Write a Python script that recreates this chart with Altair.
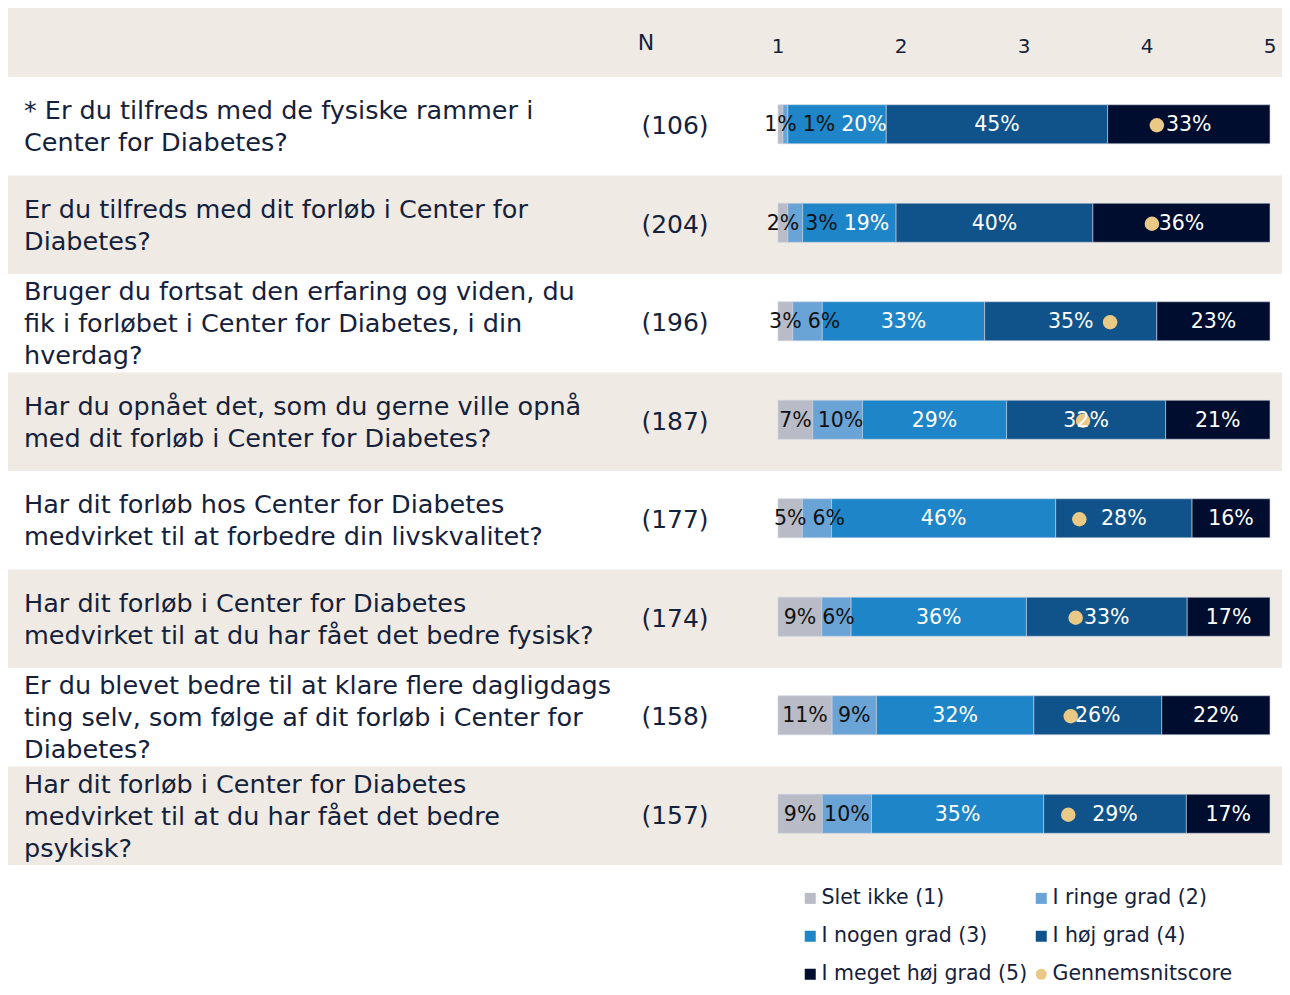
import altair as alt
import pandas as pd

# ---------------- data ----------------
questions = [
    "* Er du tilfreds med de fysiske rammer i\nCenter for Diabetes?",
    "Er du tilfreds med dit forløb i Center for\nDiabetes?",
    "Bruger du fortsat den erfaring og viden, du\nfik i forløbet i Center for Diabetes, i din\nhverdag?",
    "Har du opnået det, som du gerne ville opnå\nmed dit forløb i Center for Diabetes?",
    "Har dit forløb hos Center for Diabetes\nmedvirket til at forbedre din livskvalitet?",
    "Har dit forløb i Center for Diabetes\nmedvirket til at du har fået det bedre fysisk?",
    "Er du blevet bedre til at klare flere dagligdags\nting selv, som følge af dit forløb i Center for\nDiabetes?",
    "Har dit forløb i Center for Diabetes\nmedvirket til at du har fået det bedre\npsykisk?",
]
n_values = [106, 204, 196, 187, 177, 174, 158, 157]
slet_ikke = [1, 2, 3, 7, 5, 9, 11, 9]
ringe_grad = [1, 3, 6, 10, 6, 6, 9, 10]
nogen_grad = [20, 19, 33, 29, 46, 36, 32, 35]
hoej_grad = [45, 40, 35, 32, 28, 33, 26, 29]
meget_hoej_grad = [33, 36, 23, 21, 16, 17, 22, 17]
mean_scores = [4.08, 4.04, 3.70, 3.48, 3.45, 3.42, 3.38, 3.36]
scale_ticks = [1, 2, 3, 4, 5]
categories = ["Slet ikke (1)", "I ringe grad (2)", "I nogen grad (3)",
              "I høj grad (4)", "I meget høj grad (5)"]
mean_label = "Gennemsnitscore"

# ---------------- styling ----------------
FONT = "DejaVu Sans"
TEXT = "#15213b"
BEIGE = "#efebe4"
cat_colors = ["#b9bcc7", "#6aa3d5", "#1e86c8", "#10538a", "#000d2e"]
dot_color = "#e9c985"
W, H = 1274, 978
X_RANGE = [770, 1262]
PX_PER_UNIT = (X_RANGE[1] - X_RANGE[0]) / 4.0
LINE_H = 32
PCT_SIZE = 20.5

# ---------------- tables ----------------
seg_rows = []
for i, q in enumerate(questions):
    vals = [slet_ikke[i], ringe_grad[i], nogen_grad[i], hoej_grad[i], meget_hoej_grad[i]]
    total = float(sum(vals))
    cum = 0
    prev_pos, prev_w = None, None
    for j, (c, v) in enumerate(zip(categories, vals)):
        start = 1 + 4 * cum / total
        cum += v
        end = 1 + 4 * cum / total
        label = f"{v}%"
        w = (0.636 * PCT_SIZE * (len(label) - 1) + 0.95 * PCT_SIZE) / PX_PER_UNIT
        pos = (start + end) / 2
        if prev_pos is not None:
            pos = max(pos, prev_pos + (prev_w + w) / 2 + 6 / PX_PER_UNIT)
        prev_pos, prev_w = pos, w
        seg_rows.append(dict(question=q, cat=c, x0=start, x1=end, lx=pos,
                             label=label,
                             tcolor="#111111" if j < 2 else "#ffffff"))
segs = pd.DataFrame(seg_rows)

qdf = pd.DataFrame({
    "question": questions,
    "nlines": [q.count("\n") + 1 for q in questions],
    "ntext": [f"({n})" for n in n_values],
    "mean": mean_scores,
    "serie": [mean_label] * len(questions),
    "beige": [i % 2 == 1 for i in range(len(questions))],
})
ticks = pd.DataFrame({"tick": scale_ticks, "t": [str(t) for t in scale_ticks]})
header = pd.DataFrame({"h": ["N"]})

xscale = alt.Scale(domain=[1, 5], range=X_RANGE)
yscale = alt.Scale(domain=questions, range=[69, 857], paddingInner=0, paddingOuter=0)
legend_domain = categories + [mean_label]
color_scale = alt.Scale(domain=legend_domain, range=cat_colors + [dot_color])
shape_scale = alt.Scale(domain=legend_domain, range=["square"] * 5 + ["circle"])
legend = alt.Legend(title=None, orient="none", legendX=792, legendY=880, columns=2,
                    direction="horizontal",
                    labelFont=FONT, labelFontSize=20.5, labelColor=TEXT, labelLimit=400,
                    symbolSize=121, symbolStrokeWidth=0, labelOffset=1,
                    rowPadding=17, columnPadding=3)

Y = alt.Y("question:N", scale=yscale, axis=None)

bg = alt.Chart(qdf).transform_filter("datum.beige").mark_rect(color=BEIGE).encode(
    y=Y, x=alt.value(0), x2=alt.value(W))
head_bg = alt.Chart(header).mark_rect(color=BEIGE).encode(
    x=alt.value(0), x2=alt.value(W), y=alt.value(0), y2=alt.value(69))

bars = alt.Chart(segs).mark_bar(size=39, yOffset=-2, stroke="#cbd4e0", strokeWidth=0.6).encode(
    y=Y,
    x=alt.X("x0:Q", scale=xscale, axis=None),
    x2="x1:Q",
    color=alt.Color("cat:N", scale=color_scale, legend=legend),
)

dots = alt.Chart(qdf).mark_point(filled=True, size=210, opacity=1, strokeWidth=0, yOffset=-1).encode(
    y=Y,
    x=alt.X("mean:Q", scale=xscale),
    color=alt.Color("serie:N", scale=color_scale, legend=legend),
    shape=alt.Shape("serie:N", scale=shape_scale, legend=legend),
)

pct = alt.Chart(segs).mark_text(font=FONT, fontSize=PCT_SIZE, baseline="middle", align="center", dy=-1).encode(
    y=Y,
    x=alt.X("lx:Q", scale=xscale),
    text="label:N",
    color=alt.Color("tcolor:N", scale=None),
)

qlayers = []
for nl in sorted(set(qdf["nlines"])):
    qlayers.append(
        alt.Chart(qdf).transform_filter(f"datum.nlines == {nl}").mark_text(
            font=FONT, fontSize=25.5, align="left", baseline="middle",
            lineBreak="\n", lineHeight=LINE_H, color=TEXT,
            dy=-(nl - 1) * LINE_H / 2 + 1).encode(
            y=Y, x=alt.value(16), text="question:N")
    )

ntext = alt.Chart(qdf).mark_text(font=FONT, fontSize=25, align="center", baseline="middle",
                                 color=TEXT).encode(
    y=Y, x=alt.value(667), text="ntext:N")

ntitle = alt.Chart(header).mark_text(font=FONT, fontSize=22, align="center", baseline="middle",
                                     color=TEXT).encode(
    x=alt.value(638), y=alt.value(35), text="h:N")

tick_text = alt.Chart(ticks).mark_text(font=FONT, fontSize=20, align="center", baseline="middle",
                                       color=TEXT).encode(
    x=alt.X("tick:Q", scale=xscale), y=alt.value(39), text="t:N")

chart = alt.layer(bg, head_bg, bars, dots, pct, *qlayers, ntext, ntitle, tick_text).properties(
    width=W, height=H, padding=0, autosize=alt.AutoSizeParams(type="none"),
    background="white",
).configure_view(strokeWidth=0)

chart.save("out.html", embed_options={"renderer": "svg", "actions": False})
